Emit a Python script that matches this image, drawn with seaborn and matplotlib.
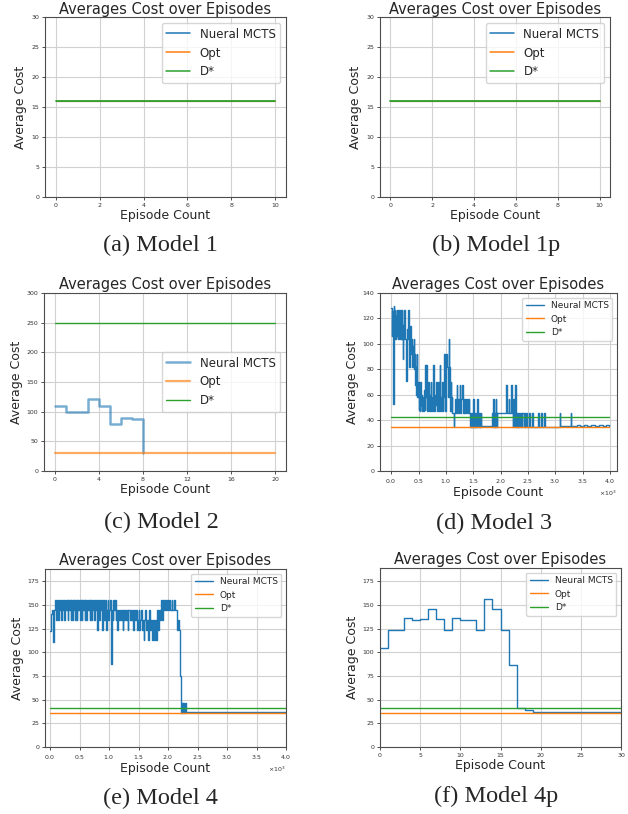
import matplotlib
matplotlib.use("Agg")
import matplotlib.pyplot as plt
import seaborn as sns

# ---------------- data ----------------
# (a) / (b) Model 1, Model 1p : all three curves sit at 16
m1_x = [0, 10]
m1_mcts = [16, 16]
m1_opt = [16, 16]
m1_dstar = [16, 16]

# (c) Model 2
m2_ep = [0, 1, 2, 3, 4, 5, 6, 7, 8]
m2_mcts = [110, 99, 100, 122, 109, 79, 90, 88, 30]
m2_opt = 30
m2_dstar = 250
m2_end = 20

# (d) Model 3 : change points (episode, cost)
m3_points = [
    (0, 128), (10, 106), (20, 126), (30, 55), (40, 53), (50, 130), (60, 108),
    (68, 127), (76, 104), (84, 122), (92, 106), (100, 127), (108, 112),
    (116, 104), (124, 127), (132, 109), (140, 104), (148, 127), (156, 116),
    (164, 104), (172, 127), (180, 110), (188, 104), (196, 127), (204, 114),
    (212, 88), (220, 115), (228, 104), (236, 127), (244, 118), (252, 104),
    (262, 92), (270, 71), (280, 104), (290, 112), (300, 104), (310, 127),
    (320, 100), (330, 82), (340, 104), (350, 114), (360, 92), (370, 104),
    (380, 82), (390, 98), (400, 92), (410, 104), (420, 80), (430, 92),
    (440, 68), (450, 82), (460, 60), (470, 92), (480, 58), (490, 70),
    (500, 48), (510, 64), (520, 47), (530, 70), (540, 52), (550, 60),
    (560, 47), (570, 58), (580, 50), (590, 47), (600, 64), (610, 48),
    (620, 83), (630, 58), (640, 83), (650, 52), (660, 47), (670, 58),
    (680, 70), (690, 52), (700, 47), (710, 60), (720, 70), (730, 47),
    (740, 58), (750, 52), (760, 47), (770, 83), (780, 58), (790, 47),
    (800, 60), (810, 52), (820, 70), (830, 58), (840, 47), (850, 58),
    (860, 70), (870, 58), (880, 47), (890, 83), (900, 58), (910, 47),
    (920, 58), (930, 70), (940, 47), (950, 58), (960, 82), (970, 92),
    (980, 58), (990, 47), (1000, 70), (1010, 92), (1020, 82), (1030, 58),
    (1050, 104), (1060, 82), (1070, 58), (1080, 47), (1090, 70), (1100, 47),
    (1110, 58), (1120, 46), (1140, 35), (1150, 46), (1170, 57), (1185, 46),
    (1200, 68), (1210, 57), (1225, 46), (1240, 57), (1255, 68), (1265, 46),
    (1280, 57), (1300, 68), (1310, 46), (1325, 57), (1340, 46), (1355, 57),
    (1370, 46), (1385, 57), (1400, 46), (1420, 57), (1430, 46), (1445, 35),
    (1455, 46), (1465, 35), (1475, 46), (1485, 35), (1495, 46), (1505, 57),
    (1515, 35), (1525, 46), (1535, 35), (1545, 46), (1555, 35), (1565, 46),
    (1575, 57), (1585, 35), (1595, 46), (1605, 35), (1615, 46), (1630, 35),
    (1640, 46), (1650, 35.5), (1850, 46), (1860, 35), (1870, 57), (1880, 35),
    (1890, 46), (1900, 35), (1910, 57), (1920, 46), (1930, 35), (1940, 46),
    (2100, 68), (2110, 46), (2150, 57), (2160, 46), (2195, 68), (2205, 57),
    (2215, 46), (2225, 35), (2235, 57), (2245, 46), (2255, 35), (2265, 68),
    (2275, 46), (2285, 35), (2295, 46), (2305, 35), (2315, 46), (2325, 35),
    (2340, 46), (2355, 35), (2370, 46), (2385, 35), (2400, 46), (2420, 35),
    (2440, 46), (2455, 35), (2470, 46), (2480, 35), (2520, 46), (2530, 35),
    (2580, 46), (2590, 35), (2690, 46), (2700, 35), (2740, 46), (2750, 35),
    (2800, 46), (2810, 35), (3080, 46), (3090, 35.5), (3280, 46), (3290, 35.5),
    (3400, 35.9), (3450, 35.3), (3520, 35.9), (3580, 35.3), (3650, 35.9),
    (3720, 35.3), (3800, 35.9), (3870, 35.3), (3930, 35.9), (3990, 35.3),
]
m3_opt = 34.4
m3_dstar = 42.3
m3_end = 3990

# (e) Model 4 : change points (episode, cost)
m4_points = [
    (0, 123), (15, 140), (30, 145), (50, 111), (60, 140), (75, 145),
    (90, 155), (100, 134), (110, 155), (120, 145), (130, 155), (140, 134),
    (150, 155), (165, 145), (180, 155), (190, 134), (200, 155), (215, 145),
    (230, 155), (245, 134), (255, 155), (270, 145), (285, 155), (300, 134),
    (310, 155), (325, 145), (340, 155), (350, 134), (360, 155), (375, 134),
    (385, 155), (400, 145), (415, 155), (430, 134), (440, 155), (455, 134),
    (465, 155), (480, 145), (495, 155), (510, 134), (520, 155), (535, 134),
    (545, 155), (560, 145), (575, 155), (590, 134), (600, 155), (615, 134),
    (625, 155), (640, 145), (655, 155), (670, 134), (680, 155), (695, 134),
    (705, 155), (720, 145), (735, 155), (750, 134), (760, 155), (775, 145),
    (790, 155), (800, 124), (810, 155), (825, 134), (840, 155), (855, 145),
    (870, 155), (880, 124), (890, 145), (905, 155), (920, 134), (935, 155),
    (950, 124), (960, 145), (975, 155), (990, 134), (1000, 145), (1020, 155),
    (1030, 88), (1045, 145), (1060, 134), (1070, 155), (1085, 145),
    (1100, 155), (1110, 134), (1125, 145), (1140, 124), (1150, 145),
    (1170, 134), (1185, 145), (1200, 134), (1215, 145), (1230, 124),
    (1240, 145), (1260, 134), (1275, 145), (1290, 134), (1305, 145),
    (1320, 124), (1330, 145), (1350, 134), (1365, 145), (1380, 134),
    (1395, 145), (1410, 124), (1420, 145), (1440, 134), (1455, 145),
    (1470, 124), (1485, 134), (1500, 145), (1515, 124), (1530, 134),
    (1545, 145), (1560, 124), (1575, 134), (1590, 113), (1600, 134),
    (1615, 145), (1630, 124), (1645, 134), (1660, 113), (1670, 134),
    (1685, 145), (1700, 124), (1715, 134), (1730, 113), (1740, 134),
    (1755, 124), (1770, 113), (1780, 134), (1795, 113), (1810, 145),
    (1825, 124), (1840, 145), (1860, 134), (1875, 155), (1890, 145),
    (1905, 134), (1920, 155), (1935, 145), (1950, 155), (1970, 145),
    (1985, 155), (2000, 145), (2015, 155), (2035, 145), (2060, 155),
    (2075, 145), (2100, 155), (2115, 145), (2150, 124), (2165, 134),
    (2180, 124), (2195, 100), (2205, 75), (2215, 52), (2225, 36), (2235, 47),
    (2250, 36), (2260, 47), (2275, 36), (2285, 47), (2300, 36.6),
    (2500, 37.2), (2520, 36.6), (3300, 37.2), (3330, 36.6), (3400, 37.2),
    (3420, 36.6), (4000, 36.6),
]
m4_opt = 36.3
m4_dstar = 41.5
m4_end = 4000

# (f) Model 4p : cost per episode
m4p_ep = list(range(31))
m4p_mcts = [105, 124, 124, 136, 134, 135, 146, 135, 124, 136, 134.5, 134.5,
            124, 156, 146, 124, 87, 41, 39.5, 36.6, 36.6, 36.6, 36.6, 36.6,
            36.6, 36.6, 36.6, 36.6, 36.8, 36.8, 36.8]
m4p_opt = 36.3
m4p_dstar = 41.5
m4p_end = 30

captions = ["(a) Model 1", "(b) Model 1p", "(c) Model 2",
            "(d) Model 3", "(e) Model 4", "(f) Model 4p"]

# ---------------- style ----------------
sns.set_theme(style="whitegrid")
plt.rcParams.update({
    "font.family": ["DejaVu Sans"],
    "axes.edgecolor": "0.3",
    "axes.linewidth": 0.8,
    "grid.color": "0.82",
    "grid.linewidth": 0.8,
    "xtick.bottom": True,
    "ytick.left": True,
    "xtick.major.size": 2,
    "ytick.major.size": 2,
    "xtick.major.width": 0.6,
    "ytick.major.width": 0.6,
    "xtick.major.pad": 2,
    "ytick.major.pad": 2,
    "xtick.labelsize": 4.5,
    "ytick.labelsize": 4.5,
    "xtick.color": "0.2",
    "ytick.color": "0.2",
    "legend.frameon": True,
    "legend.framealpha": 0.8,
    "legend.edgecolor": "0.8",
    "legend.fancybox": True,
})

BLUE, ORANGE, GREEN = "#1f77b4", "#ff7f0e", "#2ca02c"
W, H = 628, 814
fig = plt.figure(figsize=(W / 100, H / 100), dpi=100)


def box(l, t, r, b):
    return [l / W, 1 - b / H, (r - l) / W, (b - t) / H]


def decorate(ax, title, leg_size, leg_loc="upper right", pad=3, handle_lw=None):
    ax.set_title(title, fontsize=10.5, pad=pad)
    ax.set_xlabel("Episode Count", fontsize=9, labelpad=1)
    ax.set_ylabel("Average Cost", fontsize=9, labelpad=3)
    leg = ax.legend(loc=leg_loc, fontsize=leg_size, handlelength=2.0)
    if handle_lw is not None:
        for h in leg.get_lines():
            h.set_linewidth(handle_lw)
    for s in ax.spines.values():
        s.set_visible(True)


title = "Averages Cost over Episodes"

# (a) and (b)
for rect in [box(45, 17, 286, 197), box(380, 17, 610, 197)]:
    ax = fig.add_axes(rect)
    sns.lineplot(x=m1_x, y=m1_mcts, ax=ax, color=BLUE, lw=0.8, label="Nueral MCTS")
    sns.lineplot(x=m1_x, y=m1_opt, ax=ax, color=ORANGE, lw=0.8, label="Opt")
    sns.lineplot(x=m1_x, y=m1_dstar, ax=ax, color=GREEN, lw=1.3, label="D*")
    ax.set_ylim(0, 30)
    ax.set_yticks(range(0, 31, 5))
    ax.set_xticks(range(0, 11, 2))
    decorate(ax, title, 8.5, pad=2, handle_lw=1.1)

# (c)
ax = fig.add_axes(box(44, 293, 286, 471))
sns.lineplot(x=m2_ep, y=m2_mcts, ax=ax, color=BLUE, lw=1.8, alpha=0.6,
             drawstyle="steps-post", label="Neural MCTS")
sns.lineplot(x=[0, m2_end], y=[m2_opt, m2_opt], ax=ax, color=ORANGE, lw=1.6,
             alpha=0.65, label="Opt")
sns.lineplot(x=[0, m2_end], y=[m2_dstar, m2_dstar], ax=ax, color=GREEN, lw=1,
             label="D*")
ax.set_ylim(0, 300)
ax.set_yticks(range(0, 301, 50))
ax.set_xticks(range(0, 21, 4))
decorate(ax, title, 8.5, leg_loc="center right")

# (d)
ax = fig.add_axes(box(380, 293, 617, 471))
m3_ep = [p[0] for p in m3_points]
m3_cost = [p[1] for p in m3_points]
sns.lineplot(x=m3_ep, y=m3_cost, ax=ax, color=BLUE, lw=1,
             drawstyle="steps-post", label="Neural MCTS")
sns.lineplot(x=[0, m3_end], y=[m3_opt, m3_opt], ax=ax, color=ORANGE, lw=1, label="Opt")
sns.lineplot(x=[0, m3_end], y=[m3_dstar, m3_dstar], ax=ax, color=GREEN, lw=1, label="D*")
ax.set_xlim(-205, 4130)
ax.set_ylim(0, 140)
ax.set_yticks(range(0, 141, 20))
ax.set_xticks(range(0, 4001, 500))
ax.ticklabel_format(axis="x", style="sci", scilimits=(3, 3), useMathText=True)
decorate(ax, title, 6.5)

# (e)
ax = fig.add_axes(box(45, 569, 286, 747))
m4_ep = [p[0] for p in m4_points]
m4_cost = [p[1] for p in m4_points]
sns.lineplot(x=m4_ep, y=m4_cost, ax=ax, color=BLUE, lw=1,
             drawstyle="steps-post", label="Neural MCTS")
sns.lineplot(x=[0, m4_end], y=[m4_opt, m4_opt], ax=ax, color=ORANGE, lw=1, label="Opt")
sns.lineplot(x=[0, m4_end], y=[m4_dstar, m4_dstar], ax=ax, color=GREEN, lw=1, label="D*")
ax.set_xlim(-85, 4000)
ax.set_ylim(0, 188)
ax.set_yticks(range(0, 176, 25))
ax.set_xticks(range(0, 4001, 500))
ax.ticklabel_format(axis="x", style="sci", scilimits=(3, 3), useMathText=True)
decorate(ax, title, 6.5)

# (f)
ax = fig.add_axes(box(380, 568, 621, 747))
sns.lineplot(x=m4p_ep, y=m4p_mcts, ax=ax, color=BLUE, lw=1,
             drawstyle="steps-post", label="Neural MCTS")
sns.lineplot(x=[0, m4p_end], y=[m4p_opt, m4p_opt], ax=ax, color=ORANGE, lw=1, label="Opt")
sns.lineplot(x=[0, m4p_end], y=[m4p_dstar, m4p_dstar], ax=ax, color=GREEN, lw=1, label="D*")
ax.set_xlim(0, 30)
ax.set_ylim(0, 189)
ax.set_yticks(range(0, 176, 25))
ax.set_xticks(range(0, 31, 5))
decorate(ax, title, 6.5)

# sub-captions
cap_pos = [(160, 245), (496, 245), (161, 522), (494, 523), (160, 798), (496, 796)]
for (cx, cy), txt in zip(cap_pos, captions):
    fig.text(cx / W, 1 - cy / H, txt, ha="center", va="center",
             fontsize=17.5, family=["Liberation Serif", "DejaVu Serif"])

fig.savefig("out.png", dpi=100)
